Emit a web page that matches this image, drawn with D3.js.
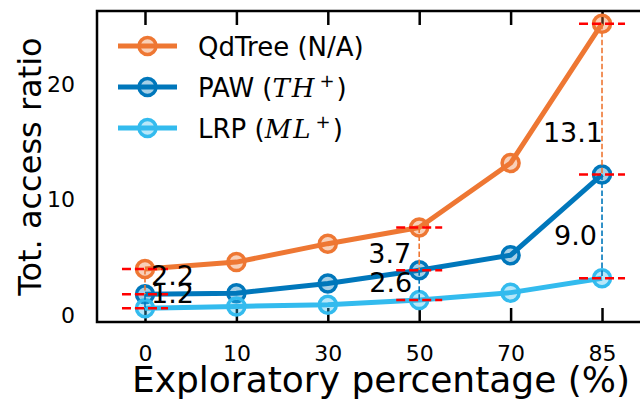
<!DOCTYPE html>
<html>
<head>
<meta charset="utf-8">
<script src="https://cdn.jsdelivr.net/npm/d3@7"></script>
<style>
  body { margin: 0; background: #fff; }
  svg { display: block; font-family: 'DejaVu Sans', sans-serif; }
</style>
</head>
<body>
<div id="chart"></div>
<script>
// exploratory percentage (x categories)
const categories = ['0', '10', '30', '50', '70', '85'];

// total access ratio per method
const qdtree = [4.0, 4.6, 6.2, 7.6, 13.2, 25.3];
const paw = [1.8, 1.9, 2.75, 3.9, 5.2, 12.2];
const lrp = [0.6, 0.75, 0.9, 1.3, 1.95, 3.2];

const yTicks = [0, 10, 20];

// gap annotations at three categories
const gapCats = ['0', '50', '85'];
const gapUpper = ['2.2', '3.7', '13.1'];
const gapLower = ['1.2', '2.6', '9.0'];

const width = 640;
const height = 401;
const margin = { top: 11, right: -10, bottom: 79, left: 97 };

const colors = { qdtree: '#EE7733', paw: '#0077BB', lrp: '#33BBEE' };

const series = [
  { key: 'qdtree', values: qdtree, name: 'QdTree (N/A)', color: colors.qdtree },
  { key: 'paw', values: paw, name: 'PAW', math: ['TH', '+'], color: colors.paw },
  { key: 'lrp', values: lrp, name: 'LRP', math: ['ML', '+'], color: colors.lrp },
];

const svg = d3
  .select('#chart')
  .append('svg')
  .attr('width', width)
  .attr('height', height);

const x = d3
  .scalePoint()
  .domain(categories)
  .range([margin.left, width - margin.right])
  .padding(0.525);

const y = d3
  .scaleLinear()
  .domain([-0.6, 26.4])
  .range([height - margin.bottom, margin.top]);

const plotBottom = height - margin.bottom;
const plotRight = width - margin.right;

// inward ticks, bottom and top
svg
  .append('g')
  .attr('transform', `translate(0,${plotBottom})`)
  .call(d3.axisBottom(x).tickSizeInner(-14).tickSizeOuter(0).tickPadding(0))
  .call((g) => g.select('.domain').remove())
  .call((g) => g.selectAll('line').attr('stroke', '#000').attr('stroke-width', 2.5))
  .call((g) =>
    g
      .selectAll('text')
      .attr('y', 39)
      .attr('dy', 0)
      .attr('fill', '#000')
      .style('font-size', '22px')
      .style('font-family', 'DejaVu Sans')
  );

svg
  .append('g')
  .attr('transform', `translate(0,${margin.top})`)
  .call(d3.axisTop(x).tickSizeInner(-14).tickSizeOuter(0).tickFormat(''))
  .call((g) => g.select('.domain').remove())
  .call((g) => g.selectAll('line').attr('stroke', '#000').attr('stroke-width', 2.5));

svg
  .append('g')
  .attr('transform', `translate(${margin.left},0)`)
  .call(d3.axisLeft(y).tickValues(yTicks).tickSize(0).tickPadding(22))
  .call((g) => g.select('.domain').remove())
  .call((g) =>
    g
      .selectAll('text')
      .attr('fill', '#000')
      .style('font-size', '22px')
      .style('font-family', 'DejaVu Sans')
  );

// frame
svg
  .append('rect')
  .attr('x', margin.left)
  .attr('y', margin.top)
  .attr('width', plotRight - margin.left)
  .attr('height', plotBottom - margin.top)
  .attr('fill', 'none')
  .attr('stroke', '#000')
  .attr('stroke-width', 2.5);

// axis titles
svg
  .append('text')
  .attr('transform', `translate(41,${(margin.top + plotBottom) / 2}) rotate(-90)`)
  .attr('text-anchor', 'middle')
  .style('font-size', '32px')
  .text('Tot. access ratio');

svg
  .append('text')
  .attr('x', 381)
  .attr('y', 392)
  .attr('text-anchor', 'middle')
  .style('font-size', '36px')
  .text('Exploratory percentage (%)');

const line = d3
  .line()
  .x((d, i) => x(categories[i]))
  .y((d) => y(d));

series.forEach((s) => {
  svg
    .append('path')
    .datum(s.values)
    .attr('d', line)
    .attr('fill', 'none')
    .attr('stroke', s.color)
    .attr('stroke-width', 5)
    .attr('stroke-linejoin', 'round');

  svg
    .selectAll(`.pt-${s.key}`)
    .data(s.values)
    .enter()
    .append('circle')
    .attr('class', `pt-${s.key}`)
    .attr('cx', (d, i) => x(categories[i]))
    .attr('cy', (d) => y(d))
    .attr('r', 8.5)
    .attr('fill', s.color)
    .attr('fill-opacity', 0.35)
    .attr('stroke', s.color)
    .attr('stroke-width', 3.5);
});

// gap markers: red ticks at each value, dashed connectors, labels
const labelLayout = [
  { anchor: 'start', dxUp: 6, dxLow: 6, upOff: 3, lowOff: 2 },
  { anchor: 'end', dxUp: -8, dxLow: -7, upOff: 14, lowOff: 7 },
  { anchor: 'end', dxUp: 1, dxLow: -5, upOff: 43, lowOff: 18.5 },
];

gapCats.forEach((c, k) => {
  const i = categories.indexOf(c);
  const cx = x(c);
  const vals = [qdtree[i], paw[i], lrp[i]];

  svg
    .append('line')
    .attr('x1', cx)
    .attr('x2', cx)
    .attr('y1', y(qdtree[i]))
    .attr('y2', y(paw[i]))
    .attr('stroke', colors.qdtree)
    .attr('stroke-width', 1.6)
    .attr('stroke-dasharray', '5.5,2.5');

  svg
    .append('line')
    .attr('x1', cx)
    .attr('x2', cx)
    .attr('y1', y(paw[i]))
    .attr('y2', y(lrp[i]))
    .attr('stroke', colors.paw)
    .attr('stroke-width', 1.6)
    .attr('stroke-dasharray', '5.5,2.5');

  vals.forEach((v) => {
    svg
      .append('line')
      .attr('x1', cx - 23)
      .attr('x2', cx + 23)
      .attr('y1', y(v))
      .attr('y2', y(v))
      .attr('stroke', '#FF0000')
      .attr('stroke-width', 2.5)
      .attr('stroke-dasharray', '9,4');
  });

  const L = labelLayout[k];
  svg
    .append('text')
    .attr('x', cx + L.dxUp)
    .attr('y', (y(qdtree[i]) + y(paw[i])) / 2 + L.upOff)
    .attr('text-anchor', L.anchor)
    .style('font-size', '27px')
    .text(gapUpper[k]);

  svg
    .append('text')
    .attr('x', cx + L.dxLow)
    .attr('y', (y(paw[i]) + y(lrp[i])) / 2 + L.lowOff)
    .attr('text-anchor', L.anchor)
    .style('font-size', '27px')
    .text(gapLower[k]);
});

// legend
const legend = svg.append('g').attr('transform', 'translate(118,46)');
series.forEach((s, idx) => {
  const row = legend.append('g').attr('transform', `translate(0,${idx * 41})`);
  row
    .append('line')
    .attr('x1', 0)
    .attr('x2', 59)
    .attr('stroke', s.color)
    .attr('stroke-width', 5);
  row
    .append('circle')
    .attr('cx', 29.5)
    .attr('r', 8.5)
    .attr('fill', s.color)
    .attr('fill-opacity', 0.35)
    .attr('stroke', s.color)
    .attr('stroke-width', 3.5);
  const t = row
    .append('text')
    .attr('x', 80)
    .attr('y', 9.5)
    .style('font-size', '26px');
  if (s.math) {
    t.append('tspan').text(`${s.name} (`);
    t.append('tspan')
      .style('font-family', "'DejaVu Serif', serif")
      .style('font-style', 'italic')
      .attr('letter-spacing', 2)
      .text(s.math[0]);
    t.append('tspan')
      .attr('dy', -10)
      .attr('dx', 3)
      .style('font-size', '18px')
      .text(s.math[1]);
    t.append('tspan').attr('dy', 10).attr('dx', 2).text(')');
  } else {
    t.text(s.name);
  }
});
</script>
</body>
</html>
